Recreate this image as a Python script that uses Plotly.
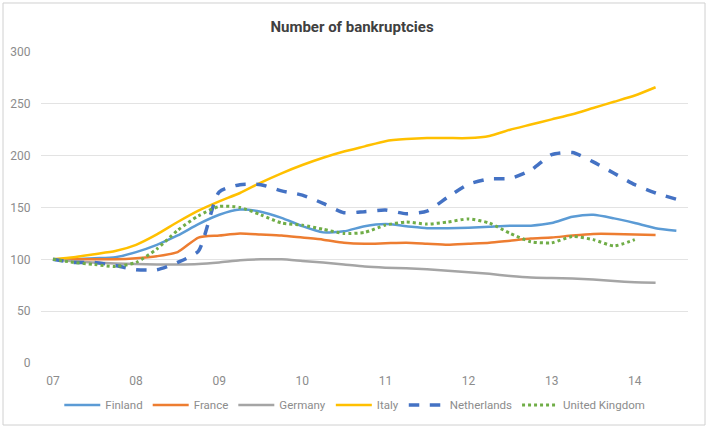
import plotly.graph_objects as go

# Quarterly periods (year index: 7 = 2007 Q1, 7.25 = 2007 Q2, ...)
periods = [7.0, 7.25, 7.5, 7.75, 8.0, 8.25, 8.5, 8.75, 9.0, 9.25, 9.5, 9.75,
           10.0, 10.25, 10.5, 10.75, 11.0, 11.25, 11.5, 11.75, 12.0, 12.25,
           12.5, 12.75, 13.0, 13.25, 13.5, 13.75, 14.0, 14.25, 14.5]

tick_vals = [7, 8, 9, 10, 11, 12, 13, 14]
tick_text = ["07", "08", "09", "10", "11", "12", "13", "14"]

finland = [100, 100, 101, 102, 107, 114, 123, 134, 143, 148, 146, 140,
           132, 126, 127, 132, 134, 132, 130, 130, 130.5, 131.5, 132.5, 132.5,
           135, 141, 143, 139.5, 135, 130, 127.5]
france = [100, 100, 100, 100, 101, 103, 107, 121, 123, 125, 124, 123,
          121, 119, 116, 115, 115.5, 116, 115, 114, 115, 116, 118, 120,
          121, 123, 124.5, 124.5, 124, 123.5]
germany = [100, 98, 97, 96, 95.5, 95, 95, 95.5, 97, 99, 100, 100,
           98.5, 97, 95, 93, 92, 91.5, 90.5, 89, 87.5, 86, 84, 82.5,
           82, 81.5, 80.5, 79, 78, 77.5]
italy = [100, 102, 105, 108, 114, 124, 136, 147, 156, 164, 174, 183,
         191, 198, 204, 209, 214, 216, 217, 217, 217, 219, 225, 230,
         235, 240, 246, 252, 258, 266]
netherlands = [100, 97, 97, 94, 90, 90, 97, 108, 165, 172, 172, 166,
               162, 154, 145, 146, 147.5, 144, 146.5, 160, 172.5, 177.5, 178, 186,
               201, 203, 194, 183, 172, 164, 158]
united_kingdom = [100, 97, 95, 93, 97, 110, 128, 142, 151, 150, 143, 135,
                  133, 129, 125, 126, 133, 136, 134, 136, 139, 135, 125, 117,
                  116, 122, 119, 113, 119]

series = [
    ("Finland", finland, "#5B9BD5", "solid", 2.5),
    ("France", france, "#ED7D31", "solid", 2.5),
    ("Germany", germany, "#A5A5A5", "solid", 2.5),
    ("Italy", italy, "#FFC000", "solid", 2.5),
    ("Netherlands", netherlands, "#4472C4", "dash", 3.5),
    ("United Kingdom", united_kingdom, "#70AD47", "dot", 3),
]

FONT = "Roboto, 'Liberation Sans Narrow', sans-serif"

fig = go.Figure()
for name, vals, color, dash, w in series:
    fig.add_trace(go.Scatter(
        x=periods[:len(vals)], y=vals, name=name, mode="lines",
        line=dict(color=color, dash=dash, width=w, shape="spline", smoothing=0.6),
    ))

fig.update_layout(
    width=708, height=429,
    paper_bgcolor="white", plot_bgcolor="white",
    margin=dict(l=41, r=20, t=52, b=66, autoexpand=False),
    title=dict(text="<b>Number of bankruptcies</b>", x=352 / 708, xanchor="center",
               y=1 - 27 / 429, yanchor="middle",
               font=dict(family=FONT, size=15, color="#404040")),
    font=dict(family=FONT, size=12, color="#8c8c8c"),
    showlegend=True,
    legend=dict(orientation="h", x=0.485, xanchor="center", y=-0.135, yanchor="middle",
                font=dict(family=FONT, size=11.5, color="#8c8c8c"),
                itemwidth=36, tracegroupgap=0),
    xaxis=dict(range=[6.856, 14.64], tickvals=tick_vals, ticktext=tick_text,
               showgrid=False, zeroline=False, showline=False, automargin=False,
               ticks="outside", ticklen=7, tickcolor="white",
               tickfont=dict(family=FONT, size=12, color="#8c8c8c")),
    yaxis=dict(range=[0, 300], tickvals=[0, 50, 100, 150, 200, 250, 300],
               showgrid=True, gridcolor="#e3e3e3", gridwidth=1, automargin=False,
               zeroline=False, showline=False,
               ticks="outside", ticklen=7, tickcolor="white",
               tickfont=dict(family=FONT, size=12, color="#8c8c8c")),
    shapes=[dict(type="rect", xref="paper", yref="paper",
                 x0=-0.0587, x1=1.0263, y0=-0.1994, y1=1.1576,
                 line=dict(color="#d0d0d0", width=1), layer="below")],
)

fig.write_html("out.html", config={"displayModeBar": False},
               post_script="document.body.style.margin='0';document.body.style.overflow='hidden';")
